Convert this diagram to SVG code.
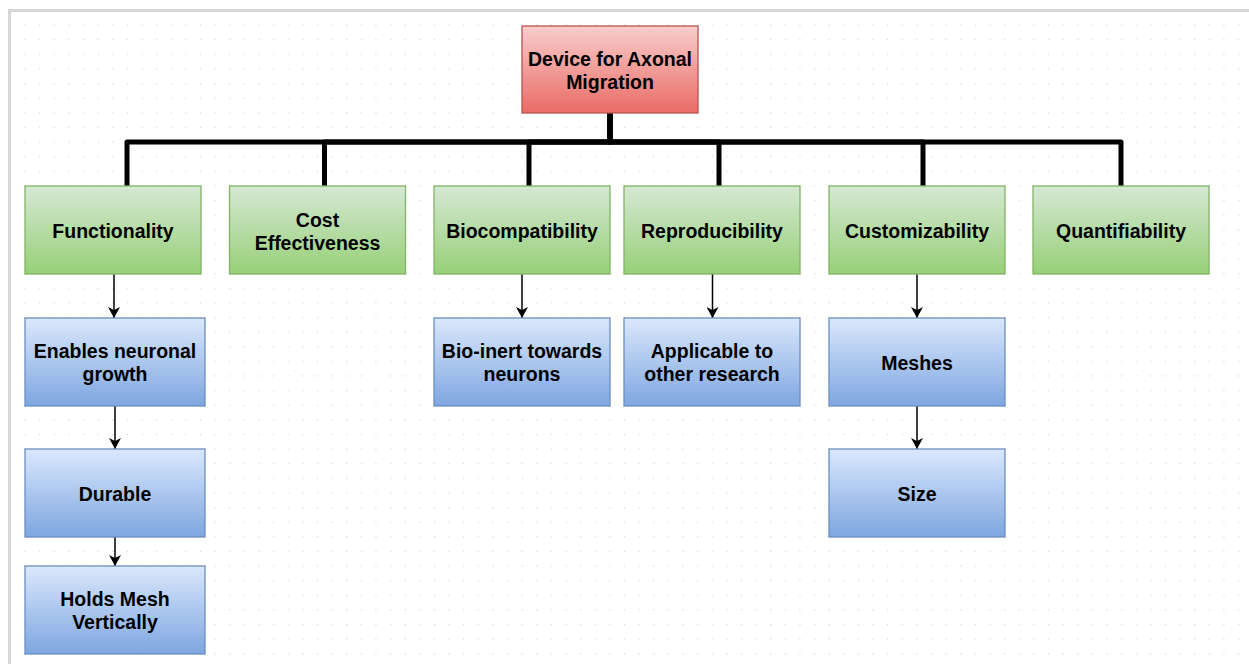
<svg xmlns="http://www.w3.org/2000/svg" width="1249" height="664" viewBox="0 0 1249 664">
  <style>
    .lbl { font-family: "Liberation Sans", Arial, Helvetica, sans-serif; font-weight: bold; font-size: 19.5px; fill: #000; text-anchor: middle; }
    .green { fill: url(#gGreen); stroke: #82b366; stroke-width: 1.3; }
    .blue { fill: url(#gBlue); stroke: #6c8ebf; stroke-width: 1.3; }
    .red { fill: url(#gRed); stroke: #b85450; stroke-width: 1.3; }
    .bus { fill: none; stroke: #000; stroke-width: 5; stroke-linejoin: round; }
    .arrow { fill: none; stroke: #000; stroke-width: 1.5; marker-end: url(#arrowHead); }
    .frame { stroke: #d6d6d6; stroke-width: 3; }
  </style>
  <defs>
    <linearGradient id="gGreen" x1="0" y1="0" x2="0" y2="1">
      <stop offset="0" stop-color="#d5e8d4"/>
      <stop offset="1" stop-color="#97d077"/>
    </linearGradient>
    <linearGradient id="gBlue" x1="0" y1="0" x2="0" y2="1">
      <stop offset="0" stop-color="#dae8fc"/>
      <stop offset="1" stop-color="#7ea6e0"/>
    </linearGradient>
    <linearGradient id="gRed" x1="0" y1="0" x2="0" y2="1">
      <stop offset="0" stop-color="#f8cecc"/>
      <stop offset="1" stop-color="#ea6b66"/>
    </linearGradient>
    <pattern id="dots" patternUnits="userSpaceOnUse" x="24.5" y="24.5" width="14.62" height="14.62">
      <rect x="0" y="0" width="1.2" height="1.2" fill="#d2d2d2"/>
    </pattern>
    <marker id="arrowHead" markerUnits="userSpaceOnUse" viewBox="0 0 11 12" markerWidth="11" markerHeight="12" refX="11" refY="6" orient="auto">
      <path d="M0,0 L11,6 L0,12 L3,6 Z" fill="#000"/>
    </marker>
  </defs>

  <rect x="0" y="0" width="1249" height="664" fill="#ffffff"/>
  <rect x="12" y="12" width="1237" height="652" fill="url(#dots)"/>
  <line class="frame" x1="8" y1="10.5" x2="1249" y2="10.5"/>
  <line class="frame" x1="9.5" y1="9" x2="9.5" y2="664"/>

  <g id="connectors">
    <path class="bus" d="M610,113 V142 H127 V186"/>
    <path class="bus" d="M610,113 V142 H324.5 V186"/>
    <path class="bus" d="M610,113 V142 H529 V186"/>
    <path class="bus" d="M610,113 V142 H719 V186"/>
    <path class="bus" d="M610,113 V142 H923 V186"/>
    <path class="bus" d="M610,113 V142 H1121 V186"/>
    <path class="arrow" d="M114,274 V318"/>
    <path class="arrow" d="M115,406 V449"/>
    <path class="arrow" d="M115,537 V566"/>
    <path class="arrow" d="M522,274 V318"/>
    <path class="arrow" d="M712.5,274 V318"/>
    <path class="arrow" d="M917,274 V318"/>
    <path class="arrow" d="M917,406 V449"/>
  </g>

  <g id="root">
    <rect class="red" x="522" y="26" width="176" height="87"/>
    <text class="lbl" x="610" y="66">Device for Axonal</text>
    <text class="lbl" x="610" y="89">Migration</text>
  </g>

  <g id="functionality">
    <rect class="green" x="25" y="186" width="176" height="88"/>
    <text class="lbl" x="113" y="237.5">Functionality</text>
  </g>
  <g id="cost">
    <rect class="green" x="229.5" y="186" width="176" height="88"/>
    <text class="lbl" x="317.5" y="226.5">Cost</text>
    <text class="lbl" x="317.5" y="249.5">Effectiveness</text>
  </g>
  <g id="biocompatibility">
    <rect class="green" x="434" y="186" width="176" height="88"/>
    <text class="lbl" x="522" y="237.5">Biocompatibility</text>
  </g>
  <g id="reproducibility">
    <rect class="green" x="624" y="186" width="176" height="88"/>
    <text class="lbl" x="712" y="237.5">Reproducibility</text>
  </g>
  <g id="customizability">
    <rect class="green" x="829" y="186" width="176" height="88"/>
    <text class="lbl" x="917" y="237.5">Customizability</text>
  </g>
  <g id="quantifiability">
    <rect class="green" x="1033" y="186" width="176" height="88"/>
    <text class="lbl" x="1121" y="237.5">Quantifiability</text>
  </g>

  <g id="enables">
    <rect class="blue" x="25" y="318" width="180" height="88"/>
    <text class="lbl" x="115" y="358">Enables neuronal</text>
    <text class="lbl" x="115" y="381">growth</text>
  </g>
  <g id="durable">
    <rect class="blue" x="25" y="449" width="180" height="88"/>
    <text class="lbl" x="115" y="500.5">Durable</text>
  </g>
  <g id="holds">
    <rect class="blue" x="25" y="566" width="180" height="88"/>
    <text class="lbl" x="115" y="606">Holds Mesh</text>
    <text class="lbl" x="115" y="629">Vertically</text>
  </g>
  <g id="bioinert">
    <rect class="blue" x="434" y="318" width="176" height="88"/>
    <text class="lbl" x="522" y="358">Bio-inert towards</text>
    <text class="lbl" x="522" y="381">neurons</text>
  </g>
  <g id="applicable">
    <rect class="blue" x="624" y="318" width="176" height="88"/>
    <text class="lbl" x="712" y="358">Applicable to</text>
    <text class="lbl" x="712" y="381">other research</text>
  </g>
  <g id="meshes">
    <rect class="blue" x="829" y="318" width="176" height="88"/>
    <text class="lbl" x="917" y="369.5">Meshes</text>
  </g>
  <g id="size">
    <rect class="blue" x="829" y="449" width="176" height="88"/>
    <text class="lbl" x="917" y="500.5">Size</text>
  </g>
</svg>
